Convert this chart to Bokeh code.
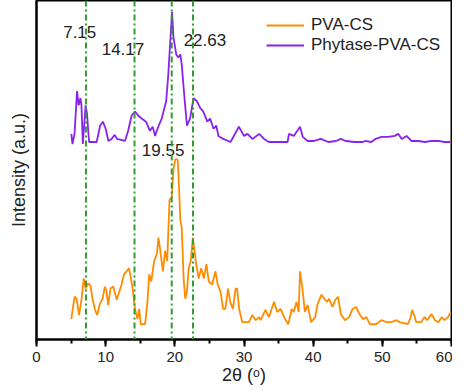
from bokeh.plotting import figure
from bokeh.models import Range1d, Span, SingleIntervalTicker, Legend, LegendItem, ColumnDataSource
from bokeh.core.properties import value
from bokeh.embed import file_html
from bokeh.resources import INLINE

# ---- data ----
pva_cs_2theta = [5.04, 5.28, 5.52, 5.8, 6.15, 6.5, 6.83, 7.1, 7.46, 7.8, 8.1, 8.43, 8.77, 9.16, 9.55, 9.88,
                 10.1, 10.37, 10.7, 11.1, 11.6, 11.97, 12.3, 12.65, 13.04, 13.37, 13.6, 13.9, 14.24, 14.6,
                 14.85, 15.07, 15.7, 16.04, 16.3, 16.6, 17.0, 17.4, 17.63, 17.9, 18.27, 18.6, 18.9, 19.23,
                 19.56, 19.8, 20.06, 20.4, 20.54, 20.8, 21.0, 21.27, 21.5, 21.75, 22.0, 22.3, 22.6, 22.85,
                 23.1, 23.45, 23.8, 24.2, 24.56, 24.9, 25.4, 25.87, 26.2, 26.6, 26.98, 27.3, 27.7, 28.0,
                 28.4, 28.78, 29.0, 29.3, 29.75, 30.7, 31.2, 31.7, 32.2, 32.4, 33.1, 33.6, 34.35, 34.8,
                 35.3, 35.8, 36.4, 36.9, 37.2, 37.6, 37.9, 38.1, 38.5, 38.8, 39.2, 39.7, 40.3, 40.6, 41.2,
                 41.6, 42.0, 42.3, 42.8, 43.2, 43.6, 44.0, 44.6, 45.2, 45.7, 46.2, 46.7, 47.2, 47.7, 48.2,
                 49.1, 49.85, 50.6, 51.3, 52.1, 52.5, 53.7, 54.1, 54.3, 54.6, 54.9, 55.6, 56.1, 56.5, 57.1,
                 57.6, 58.1, 58.6, 59.0, 59.5, 59.9]
pva_cs_intensity = [20, 32, 42, 40, 24, 39, 60, 50, 55, 53, 40, 30, 24, 35, 40, 52,
                    48, 34, 50, 52, 39, 47, 54, 64, 67, 70, 62, 50, 30, 20,
                    30, 15, 15, 37, 64, 57, 77, 84, 100, 87, 67, 87, 77, 137,
                    140, 167, 177, 177, 160, 117, 110, 60, 40, 47, 70, 77, 100, 87,
                    73, 60, 70, 60, 74, 57, 54, 67, 54, 47, 30, 30, 50, 37,
                    30, 50, 50, 30, 17, 17, 24, 19, 22, 19, 29, 22, 37, 27,
                    30, 22, 15, 30, 27, 37, 27, 67, 47, 27, 34, 17, 22, 34, 44,
                    40, 37, 40, 32, 39, 42, 25, 19, 22, 30, 32, 25, 20, 22, 15,
                    15, 19, 17, 17, 19, 17, 15, 22, 29, 24, 17, 17, 22, 19, 25,
                    19, 17, 22, 19, 22, 27]

phytase_2theta = [5.04, 5.2, 5.5, 5.86, 6.1, 6.35, 6.5, 6.7, 7.1, 7.3, 7.6, 8.7, 9.2, 9.6, 10.0, 10.4,
                  10.85, 11.3, 11.65, 12.8, 13.25, 13.76, 14.24, 14.7, 15.2, 15.84, 16.4, 16.8, 17.15,
                  17.6, 18.1, 18.75, 19.05, 19.6, 19.8, 20.2, 20.5, 20.8, 21.0, 21.4, 21.75, 22.2, 22.7,
                  23.2, 23.7, 24.1, 24.7, 25.1, 25.6, 26.0, 26.3, 27.0, 28.05, 29.26, 30.0, 30.5, 31.2,
                  32.2, 32.9, 33.6, 36.3, 36.5, 37.2, 38.1, 38.5, 39.2, 40.1, 41.1, 42.2, 43.3, 44.0,
                  44.7, 46.0, 47.2, 47.5, 48.4, 49.0, 49.9, 50.8, 51.8, 52.3, 52.8, 53.5, 54.2, 55.2,
                  56.2, 57.1, 58.1, 59.0, 59.8]
phytase_intensity = [202, 192, 202, 244, 230, 237, 230, 192, 230, 222, 194, 194, 210, 214, 207, 195,
                     197, 201, 197, 195, 205, 220, 224, 220, 217, 214, 205, 209, 200,
                     209, 217, 234, 260, 322, 297, 280, 277, 280, 270, 237, 210, 217, 237,
                     234, 227, 224, 214, 217, 207, 210, 200, 197, 194, 209, 200, 202, 197,
                     202, 197, 194, 194, 202, 200, 209, 199, 195, 195, 197, 194, 195, 197,
                     195, 194, 194, 195, 194, 197, 199, 199, 200, 202, 197, 200, 195, 195,
                     194, 195, 195, 194, 194]

peak_positions = [7.15, 14.17, 19.55, 22.63]
peak_labels = ["7.15", "14.17", "19.55", "22.63"]
label_x = [6.25, 12.5, 18.3, 24.35]
label_y = [302, 285, 186, 294]

x_ticks_interval = 10

FONT = "Liberation Sans"

p = figure(width=452, height=387, output_backend="svg", toolbar_location=None,
           x_range=Range1d(0, 60), y_range=Range1d(0, 333),
           min_border_left=36, min_border_right=1, min_border_top=0, min_border_bottom=20)
p.grid.visible = False
p.background_fill_color = "white"
p.border_fill_color = "white"
p.outline_line_color = "black"
p.outline_line_width = 2

# x axis
p.xaxis.ticker = SingleIntervalTicker(interval=x_ticks_interval, num_minor_ticks=2)
p.xaxis.axis_line_width = 2
p.xaxis.axis_line_color = "black"
p.xaxis.major_tick_line_width = 2
p.xaxis.major_tick_out = 7
p.xaxis.major_tick_in = 0
p.xaxis.minor_tick_line_width = 2
p.xaxis.minor_tick_out = 4
p.xaxis.minor_tick_in = 0
p.xaxis.major_label_text_font = FONT
p.xaxis.major_label_text_font_size = "15px"
p.xaxis.major_label_text_color = "#222222"
p.xaxis.major_label_standoff = 5
p.xaxis.axis_label = "2θ (ᵒ)"
p.xaxis.axis_label_text_font = FONT
p.xaxis.axis_label_text_font_size = "18px"
p.xaxis.axis_label_text_font_style = "normal"
p.xaxis.axis_label_text_color = "#222222"
p.xaxis.axis_label_standoff = 0

# y axis
p.yaxis.axis_line_width = 2
p.yaxis.axis_line_color = "black"
p.yaxis.major_tick_line_color = None
p.yaxis.minor_tick_line_color = None
p.yaxis.major_label_text_font_size = "0px"
p.yaxis.major_label_text_color = None
p.yaxis.axis_label = "Intensity (a.u.)"
p.yaxis.axis_label_text_font = FONT
p.yaxis.axis_label_text_font_size = "18px"
p.yaxis.axis_label_text_font_style = "normal"
p.yaxis.axis_label_text_color = "#222222"
p.yaxis.axis_label_standoff = 2

# reference lines
for pos in peak_positions:
    p.add_layout(Span(location=pos, dimension="height", line_color="#2e9e2e",
                      line_width=2, line_dash="6 3 2 3"))

r1 = p.line(pva_cs_2theta, pva_cs_intensity, line_color="#ff8c00", line_width=1.8)
r2 = p.line(phytase_2theta, phytase_intensity, line_color="#8a22ee", line_width=1.8)

src = ColumnDataSource(dict(x=label_x, y=label_y, t=peak_labels))
p.text(x="x", y="y", text="t", source=src, text_font=value(FONT), text_font_size="17px",
       text_align="center", text_baseline="middle", text_color="#222222")

legend = Legend(items=[LegendItem(label="PVA-CS", renderers=[r1]),
                       LegendItem(label="Phytase-PVA-CS", renderers=[r2])],
                location=(230, 284))
legend.label_text_font = FONT
legend.label_text_font_size = "17px"
legend.label_text_color = "#222222"
legend.glyph_width = 38
legend.glyph_height = 20
legend.label_height = 20
legend.label_standoff = 7
legend.spacing = 0
legend.padding = 0
legend.margin = 0
legend.border_line_color = None
legend.background_fill_alpha = 0
p.add_layout(legend)

open("out.html", "w").write(file_html(p, INLINE))
